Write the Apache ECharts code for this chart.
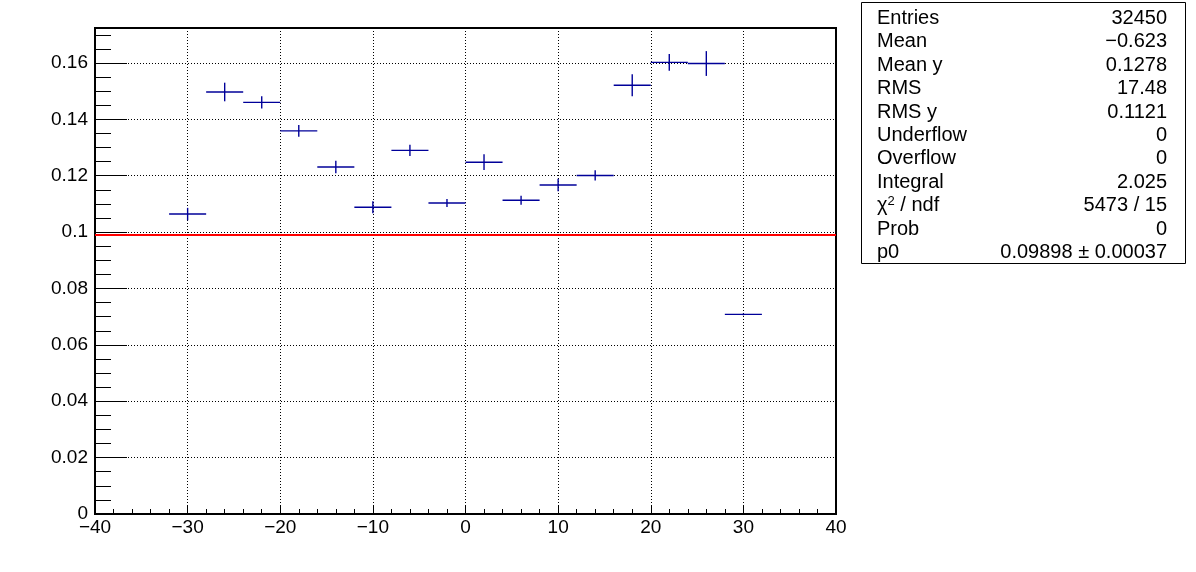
<!DOCTYPE html>
<html>
<head>
<meta charset="utf-8">
<script src="https://cdn.jsdelivr.net/npm/echarts@6/dist/echarts.min.js"></script>
<style>
html,body{margin:0;padding:0;background:#fff;}
#c{width:1196px;height:572px;}
</style>
</head>
<body>
<div id="c"></div>
<script>
// ---- data ----
const binCenters = [-30, -26, -22, -18, -14, -10, -6, -2, 2, 6, 10, 14, 18, 22, 26, 30];
const binWidth = 4;
const means = [0.1064, 0.1497, 0.1460, 0.1359, 0.1231, 0.1088, 0.1290, 0.1103, 0.1248, 0.1113, 0.1167, 0.1201, 0.1521, 0.1602, 0.1598, 0.0708];
const errors = [0.0022, 0.0033, 0.0022, 0.0021, 0.0022, 0.0021, 0.0020, 0.0014, 0.0028, 0.0016, 0.0022, 0.0018, 0.0039, 0.0030, 0.0044, 0.0003];
const fitP0 = 0.09898;
const fitRange = [-40, 40];
const statLabels = ['Entries', 'Mean', 'Mean y', 'RMS', 'RMS y', 'Underflow', 'Overflow', 'Integral', '{a|χ}{s|2}{a| / ndf}', 'Prob', 'p0'];
const statValues = ['32450', '\u22120.623', '0.1278', '17.48', '0.1121', '0', '0', '2.025', '5473 / 15', '0', '0.09898 \u00b1 0.00037'];
const xTicks = {min: -40, max: 40, interval: 10};
const yTicks = {min: 0, max: 0.1724, interval: 0.02, minor: 0.005};

const FONT = '"Liberation Sans", Arial, Helvetica, sans-serif';
const chart = echarts.init(document.getElementById('c'), null, {renderer: 'canvas'});
const minus = v => String(v).replace('-', '\u2212');

const dots = {type: [1, 2], color: '#000', width: 1};

const graphic = [{
  type: 'rect', shape: {x: 861.5, y: 2.5, width: 324, height: 261},
  style: {fill: '#fff', stroke: '#000', lineWidth: 1}, z: 10
}];
statLabels.forEach((t, i) => {
  const yy = 18.5 + i * 23.4;
  graphic.push({
    type: 'text', x: 877, y: yy, z: 11,
    style: {text: t, font: '20px ' + FONT, fill: '#000', verticalAlign: 'middle', align: 'left',
      rich: {a: {fontSize: 20, fontFamily: FONT}, s: {fontSize: 13, fontFamily: FONT, verticalAlign: 'top', padding: [0, 0, 8, 0]}}}
  });
  graphic.push({
    type: 'text', x: 1167, y: yy, z: 11,
    style: {text: statValues[i], font: '20px ' + FONT, fill: '#000', verticalAlign: 'middle', align: 'right'}
  });
});

const option = {
  animation: false,
  backgroundColor: '#fff',
  grid: {left: 95, right: 360, top: 28, bottom: 58, show: true, borderColor: '#000', borderWidth: 2, backgroundColor: 'transparent'},
  xAxis: {
    type: 'value', min: xTicks.min, max: xTicks.max, interval: xTicks.interval,
    axisLine: {show: true, onZero: false, lineStyle: {color: '#000', width: 2}},
    axisTick: {show: true, inside: true, length: 9, lineStyle: {color: '#000', width: 1}},
    minorTick: {show: true, splitNumber: 5, length: 5, lineStyle: {color: '#000', width: 1}},
    axisLabel: {color: '#000', fontSize: 19, fontFamily: FONT, margin: 4, formatter: v => minus(v)},
    splitLine: {show: true, lineStyle: dots}
  },
  yAxis: [{
    type: 'value', min: yTicks.min, max: yTicks.max, interval: yTicks.interval, position: 'left',
    axisLine: {show: true, onZero: false, lineStyle: {color: '#000', width: 2}},
    axisTick: {show: true, inside: true, length: 32, lineStyle: {color: '#000', width: 1}},
    axisLabel: {color: '#000', fontSize: 19, fontFamily: FONT, margin: 7, showMaxLabel: false,
      formatter: v => String(+v.toFixed(4))},
    splitLine: {show: true, lineStyle: dots}
  }, {
    type: 'value', min: yTicks.min, max: yTicks.max, interval: yTicks.minor, position: 'left', offset: 0,
    axisLine: {show: false, onZero: false},
    axisTick: {show: true, inside: true, length: 16, lineStyle: {color: '#000', width: 1}},
    axisLabel: {show: false},
    splitLine: {show: false}
  }],
  graphic: graphic,
  series: [{
    type: 'line', yAxisIndex: 0, z: 3,
    data: [[fitRange[0], fitP0], [fitRange[1], fitP0]],
    symbol: 'none', lineStyle: {color: '#ff0000', width: 2}, silent: true
  }, {
    type: 'custom', yAxisIndex: 0, z: 4,
    data: binCenters.map((c, i) => [c, means[i], errors[i]]),
    renderItem: function (params, api) {
      const x = api.value(0), y = api.value(1), e = api.value(2);
      const pL = api.coord([x - binWidth / 2, y]);
      const pR = api.coord([x + binWidth / 2, y]);
      const pT = api.coord([x, y + e]);
      const pB = api.coord([x, y - e]);
      const st = {stroke: '#000099', lineWidth: 1.4};
      return {type: 'group', children: [
        {type: 'line', shape: {x1: pL[0], y1: pL[1], x2: pR[0], y2: pR[1]}, style: st},
        {type: 'line', shape: {x1: pT[0], y1: pT[1], x2: pB[0], y2: pB[1]}, style: st}
      ]};
    }
  }]
};
chart.setOption(option);
</script>
</body>
</html>
